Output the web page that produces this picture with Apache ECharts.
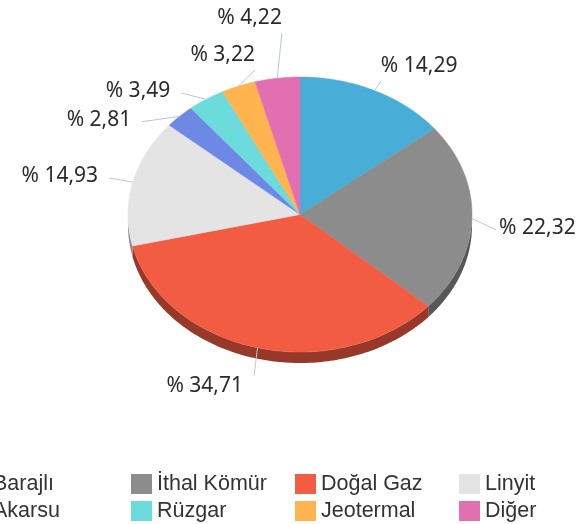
<!DOCTYPE html>
<html>
<head>
<meta charset="utf-8">
<script src="https://cdn.jsdelivr.net/npm/echarts@6/dist/echarts.min.js"></script>
<style>
  html, body { margin: 0; padding: 0; background: #fff; }
  #chart { width: 581px; height: 524px; }
</style>
</head>
<body>
<div id="chart"></div>
<script>
// elektrik üretimi kaynak payları (%)
const names = ['Barajlı', 'İthal Kömür', 'Doğal Gaz', 'Linyit', 'Akarsu', 'Rüzgar', 'Jeotermal', 'Diğer'];
const shares = [14.29, 22.32, 34.71, 14.93, 2.81, 3.49, 3.22, 4.22];
const colors = ['#48aed8', '#8c8c8c', '#f25c43', '#e4e4e4', '#6e88e6', '#6bdbdb', '#ffb44f', '#e270b0'];

// label line placement (style only)
const labelShift = [0.5, 3.8, -1, -0.6, -10, -5.6, 6.8, 2.8];
const labelDist = [11, 25, 28, 24, 22, 18, 11.5, 44.5];

const cx = 300, cy = 214.5, rx = 172, ry = 137.5, depth = 11;
const FONT = '21px "Noto Sans"';

const total = shares.reduce((a, b) => a + b, 0);

function darken(hex, k) {
  const n = parseInt(hex.slice(1), 16);
  const r = Math.round(((n >> 16) & 255) * k);
  const g = Math.round(((n >> 8) & 255) * k);
  const b = Math.round((n & 255) * k);
  return 'rgb(' + r + ',' + g + ',' + b + ')';
}

function pt(deg, dx, dy) {
  const a = deg * Math.PI / 180;
  return [cx + (rx + dx) * Math.sin(a), cy - (ry + dx) * Math.cos(a) + dy];
}

function arc(from, to, dy) {
  const pts = [];
  const steps = Math.max(2, Math.ceil(Math.abs(to - from)));
  for (let k = 0; k <= steps; k++) {
    pts.push(pt(from + (to - from) * k / steps, 0, dy));
  }
  return pts;
}

function renderSlice(params, api) {
  const i = params.seriesIndex;
  const value = api.value(0);
  let before = 0;
  for (let j = 0; j < i; j++) before += shares[j];
  const a0 = before / total * 360;
  const a1 = (before + value) / total * 360;
  const color = colors[i];
  const children = [];

  // side wall (front half only)
  const lo = Math.max(a0, 90), hi = Math.min(a1, 270);
  if (hi > lo) {
    const pts = arc(lo, hi, 0).concat(arc(hi, lo, depth));
    children.push({
      type: 'polygon',
      z2: 1,
      shape: { points: pts },
      style: { fill: darken(color, 0.62) }
    });
  }

  // top face
  children.push({
    type: 'polygon',
    z2: 2,
    shape: { points: [[cx, cy]].concat(arc(a0, a1, 0)) },
    style: { fill: color, stroke: color, lineWidth: 0.5 }
  });

  // label line + text
  const mid = (a0 + a1) / 2;
  const start = pt(mid, 0, 0);
  const la = mid + labelShift[i];
  const end = pt(la, labelDist[i], 0);
  children.push({
    type: 'polyline',
    z2: 3,
    shape: { points: [start, end] },
    style: { stroke: '#b8c6dc', lineWidth: 1, fill: null }
  });
  const s = Math.sin(la * Math.PI / 180);
  const c = Math.cos(la * Math.PI / 180);
  const right = s >= 0;
  let tx, ty, va;
  if (c > 0.85) {
    tx = end[0]; ty = end[1] - 5; va = 'bottom';
  } else if (c < -0.85) {
    tx = right ? end[0] + 3 : end[0] - 11; ty = end[1]; va = 'top';
  } else {
    tx = right ? end[0] + 3 : end[0] - 11; ty = end[1] - 2; va = 'middle';
  }
  children.push({
    type: 'text',
    z2: 4,
    style: {
      x: tx, y: ty,
      text: '% ' + value.toFixed(2).replace('.', ','),
      font: FONT,
      fill: '#2b2b2b',
      align: right ? 'left' : 'right',
      verticalAlign: va
    }
  });

  return { type: 'group', children: children };
}

const chart = echarts.init(document.getElementById('chart'), null, { renderer: 'canvas' });
chart.setOption({
  animation: false,
  legend: {
    data: names,
    left: -38,
    top: 468,
    width: 660,
    orient: 'horizontal',
    icon: 'rect',
    itemWidth: 21,
    itemHeight: 20,
    itemGap: 5,
    textStyle: {
      fontFamily: 'Liberation Sans',
      fontSize: 21.5,
      color: '#333',
      width: 133,
      lineHeight: 20
    }
  },
  series: names.map((name, i) => ({
    type: 'custom',
    name: name,
    coordinateSystem: 'none',
    itemStyle: { color: colors[i] },
    data: [shares[i]],
    renderItem: renderSlice
  }))
});
</script>
</body>
</html>
